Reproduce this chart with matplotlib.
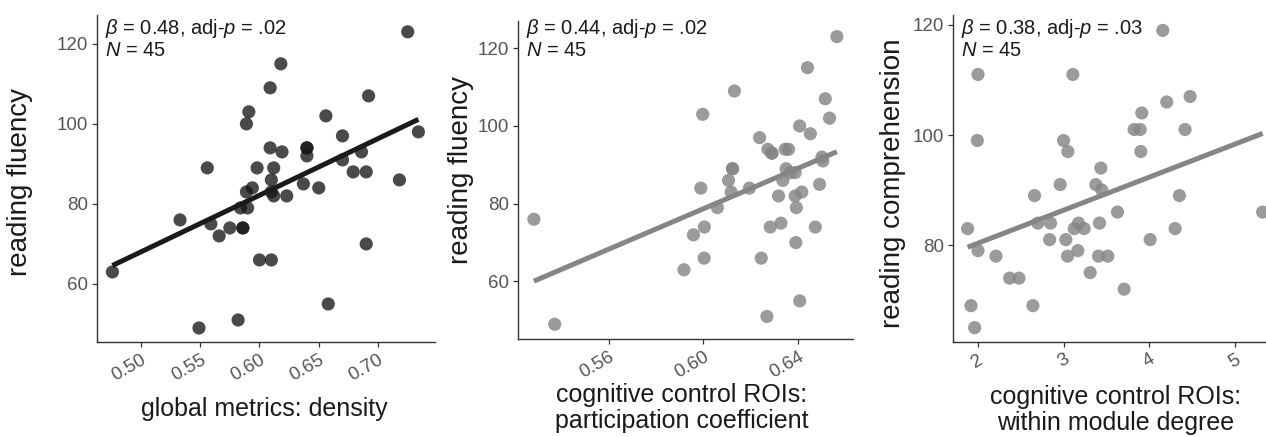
import numpy as np
import matplotlib
matplotlib.use("Agg")
import matplotlib.pyplot as plt

plt.rcParams['font.family'] = ['Liberation Sans', 'DejaVu Sans']
plt.rcParams['mathtext.fontset'] = 'custom'
plt.rcParams['mathtext.rm'] = 'Liberation Sans'
plt.rcParams['mathtext.it'] = 'Liberation Sans:italic'

# painel 1: densidade global x fluencia de leitura
density = [0.476, 0.533, 0.549, 0.556, 0.559, 0.566, 0.575, 0.582, 0.586, 0.586,
           0.584, 0.590, 0.589, 0.591, 0.589, 0.594, 0.598, 0.600, 0.610, 0.609,
           0.609, 0.610, 0.612, 0.612, 0.610, 0.618, 0.619, 0.623, 0.637, 0.640,
           0.640, 0.640, 0.650, 0.656, 0.658, 0.670, 0.670, 0.679, 0.686, 0.690,
           0.690, 0.692, 0.718, 0.725, 0.734]
fluency1 = [63, 76, 49, 89, 75, 72, 74, 51, 74, 74,
            79, 79, 100, 103, 83, 84, 89, 66, 66, 109,
            94, 86, 89, 82, 83, 115, 93, 82, 85, 94,
            94, 92, 84, 102, 55, 97, 91, 88, 93, 88,
            70, 107, 86, 123, 98]

# painel 2: coeficiente de participacao x fluencia de leitura
partcoef = [0.5285, 0.5373, 0.5918, 0.5958, 0.5989, 0.5997, 0.6004, 0.6003, 0.6059, 0.6106,
            0.6117, 0.6123, 0.6123, 0.6131, 0.6194, 0.6237, 0.6244, 0.6268, 0.6272, 0.6282,
            0.6289, 0.6289, 0.6317, 0.6327, 0.6345, 0.6359, 0.6349, 0.6335, 0.6366, 0.6387,
            0.6387, 0.6392, 0.6390, 0.6406, 0.6406, 0.6415, 0.6439, 0.6451, 0.6472, 0.6490,
            0.6500, 0.6504, 0.6514, 0.6532, 0.6563]
fluency2 = [76, 49, 63, 72, 84, 103, 74, 66, 79, 86,
            83, 89, 89, 109, 84, 97, 66, 51, 94, 74,
            93, 93, 82, 75, 94, 94, 89, 86, 88, 88,
            82, 79, 70, 100, 55, 83, 115, 98, 74, 85,
            92, 91, 107, 102, 123]

# painel 3: grau dentro do modulo x compreensao de leitura
wmd = [1.879, 1.918, 1.961, 2.000, 1.992, 2.000, 2.210, 2.370, 2.479, 2.642,
       2.661, 2.700, 2.848, 2.837, 2.961, 3.000, 3.027, 3.047, 3.050, 3.109,
       3.125, 3.175, 3.167, 3.241, 3.311, 3.377, 3.420, 3.409, 3.436, 3.447,
       3.518, 3.630, 3.708, 3.825, 3.895, 3.903, 3.914, 4.012, 4.160, 4.206,
       4.304, 4.354, 4.420, 4.479, 5.327]
comprehension = [83, 69, 65, 111, 99, 79, 78, 74, 74, 69,
                 89, 84, 84, 81, 91, 99, 81, 78, 97, 111,
                 83, 84, 79, 83, 75, 91, 84, 78, 94, 90,
                 78, 86, 72, 101, 101, 97, 104, 81, 119, 106,
                 83, 89, 101, 107, 86]

stats = [r"$\beta$ = 0.48, adj-$p$ = .02" + "\n" + r"$N$ = 45",
         r"$\beta$ = 0.44, adj-$p$ = .02" + "\n" + r"$N$ = 45",
         r"$\beta$ = 0.38, adj-$p$ = .03" + "\n" + r"$N$ = 45"]

W, H = 1266, 437
fig = plt.figure(figsize=(W / 100, H / 100), dpi=100)


def painel(rect_px, x, y, cor_pt, alpha, cor_linha, xlim, ylim, xticks, xtl, yticks,
           xlabel, xlab_pos, ylabel, ylab_pos, texto):
    x0, y0, x1, y1 = rect_px
    ax = fig.add_axes([x0 / W, 1 - y1 / H, (x1 - x0) / W, (y1 - y0) / H])
    ax.scatter(x, y, s=90, color=cor_pt, alpha=alpha, edgecolors='none', zorder=2)
    # reta de regressao (minimos quadrados)
    b, a = np.polyfit(x, y, 1)
    xs = np.array([min(x), max(x)])
    ax.plot(xs, a + b * xs, color=cor_linha, lw=3.6, solid_capstyle='butt', zorder=3)
    ax.set_xlim(xlim)
    ax.set_ylim(ylim)
    ax.set_xticks(xticks)
    ax.set_xticklabels(xtl, rotation=30, ha='right', va='top', rotation_mode='anchor')
    ax.set_yticks(yticks)
    for s in ['top', 'right']:
        ax.spines[s].set_visible(False)
    for s in ['left', 'bottom']:
        ax.spines[s].set_color('#333333')
        ax.spines[s].set_linewidth(1.0)
    ax.tick_params(length=3.5, width=0.9, color='#333333', labelsize=13.5,
                   labelcolor='#555555', pad=3)
    # titulos dos eixos em posicoes fixas (pixels)
    fig.text(xlab_pos[0] / W, 1 - xlab_pos[1] / H, xlabel, fontsize=18, color='#1a1a1a',
             ha='center', va='center', linespacing=1.15)
    fig.text(ylab_pos[0] / W, 1 - ylab_pos[1] / H, ylabel, fontsize=20, color='#1a1a1a',
             ha='center', va='center', rotation=90)
    ax.text(0.025, 1.0 + (y0 - 17) / (y1 - y0), texto, transform=ax.transAxes,
            ha='left', va='top', fontsize=14.5, color='#1a1a1a', linespacing=1.05)
    return ax


painel((97, 15, 435, 342), density, fluency1, '#171717', 0.78, '#1a1a1a',
       (0.463, 0.748), (45.5, 127.2), [0.50, 0.55, 0.60, 0.65, 0.70],
       ['0.50', '0.55', '0.60', '0.65', '0.70'], [60, 80, 100, 120],
       'global metrics: density', (264, 409), 'reading fluency', (20.5, 182), stats[0])

painel((518, 21, 853, 339), partcoef, fluency2, '#858585', 0.82, '#858585',
       (0.5218, 0.6631), (45.2, 127), [0.56, 0.60, 0.64],
       ['0.56', '0.60', '0.64'], [60, 80, 100, 120],
       'cognitive control ROIs:\nparticipation coefficient', (682, 408),
       'reading fluency', (461, 170), stats[1])

painel((953, 15, 1266, 342), wmd, comprehension, '#858585', 0.82, '#858585',
       (1.708, 5.366), (62.4, 121.8), [2, 3, 4, 5],
       ['2', '3', '4', '5'], [80, 100, 120],
       'cognitive control ROIs:\nwithin module degree', (1116, 410),
       'reading comprehension', (893, 183), stats[2])

fig.savefig('out.png', dpi=100)
